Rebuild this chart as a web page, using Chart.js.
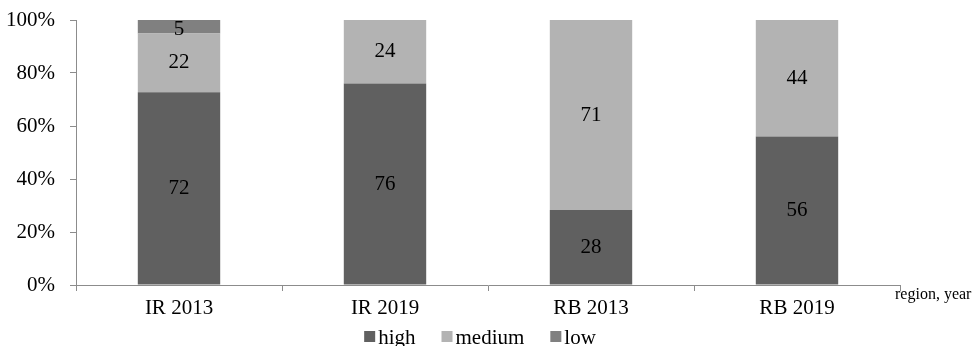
<!DOCTYPE html>
<html>
<head>
<meta charset="utf-8">
<script src="https://cdn.jsdelivr.net/npm/chart.js@4/dist/chart.umd.min.js"></script>
<style>
html,body{margin:0;padding:0;background:#fff;overflow:hidden;}
#c{display:block;}
</style>
</head>
<body>
<canvas id="c" width="975" height="346"></canvas>
<script>
const categories = ['IR 2013', 'IR 2019', 'RB 2013', 'RB 2019'];
const highValues = [72, 76, 28, 56];
const mediumValues = [22, 24, 71, 44];
const lowValues = [5, 0, 0, 0];
const yTicks = [0, 20, 40, 60, 80, 100];
const axisTitle = 'region, year';

const FONT = '"Liberation Serif", "Times New Roman", serif';
const totals = categories.map((_, i) => highValues[i] + mediumValues[i] + lowValues[i]);
const pct = arr => arr.map((v, i) => v / totals[i] * 100);
const rawSeries = [highValues, mediumValues, lowValues];

const labelPlugin = {
  id: 'segLabels',
  afterDatasetsDraw(chart) {
    const ctx = chart.ctx;
    ctx.save();
    ctx.font = '21px ' + FONT;
    ctx.fillStyle = '#000';
    ctx.textAlign = 'center';
    ctx.textBaseline = 'middle';
    chart.data.datasets.forEach((ds, di) => {
      const meta = chart.getDatasetMeta(di);
      meta.data.forEach((el, i) => {
        const raw = rawSeries[di][i];
        if (!raw) return;
        const yc = (el.y + el.base) / 2;
        ctx.fillText(String(raw), el.x, yc + (di === 2 ? 3 : 0));
      });
    });
    // axis title
    ctx.font = '16px ' + FONT;
    ctx.textAlign = 'left';
    ctx.fillText(axisTitle, chart.chartArea.right - 5, chart.chartArea.bottom + 10);
    // legend
    ctx.font = '21px ' + FONT;
    ctx.textBaseline = 'alphabetic';
    const items = chart.data.datasets.map(d => ({ text: d.label, color: d.backgroundColor, w: ctx.measureText(d.label).width }));
    const box = 11, gap = 3, sep = 26;
    let total = 0;
    items.forEach((it, k) => { total += box + gap + it.w + (k < items.length - 1 ? sep : 0); });
    let x = 480 - total / 2;
    const baseY = 344;
    items.forEach(it => {
      ctx.fillStyle = it.color;
      ctx.fillRect(x, baseY - 13, box, box);
      ctx.fillStyle = '#000';
      ctx.fillText(it.text, x + box + gap, baseY);
      x += box + gap + it.w + sep;
    });
    ctx.restore();
  }
};

new Chart(document.getElementById('c'), {
  type: 'bar',
  data: {
    labels: categories,
    datasets: [
      { label: 'high', data: pct(highValues), backgroundColor: '#606060' },
      { label: 'medium', data: pct(mediumValues), backgroundColor: '#b3b3b3' },
      { label: 'low', data: pct(lowValues), backgroundColor: '#808080' }
    ]
  },
  options: {
    responsive: false,
    devicePixelRatio: 1,
    animation: false,
    layout: { padding: { top: 20, right: 75, left: 6, bottom: 21 } },
    datasets: { bar: { categoryPercentage: 1.0, barPercentage: 0.4 } },
    scales: {
      x: {
        stacked: true,
        afterFit: s => { s.height = 40; s.paddingLeft = 0; s.paddingRight = 0; },
        grid: { drawOnChartArea: false, drawTicks: true, tickLength: 6, color: '#8c8c8c', offset: true },
        border: { color: '#8c8c8c', width: 1 },
        ticks: { color: '#000', font: { family: FONT, size: 21 }, padding: 5, maxRotation: 0 }
      },
      y: {
        stacked: true,
        min: 0, max: 100,
        afterFit: s => { s.width = 70; s.paddingTop = 0; s.paddingBottom = 0; },
        afterBuildTicks: s => { s.ticks = yTicks.map(v => ({ value: v })); },
        grid: { drawOnChartArea: false, drawTicks: true, tickLength: 6, color: '#8c8c8c' },
        border: { color: '#8c8c8c', width: 1 },
        ticks: { color: '#000', font: { family: FONT, size: 21 }, padding: 15, callback: v => v + '%' }
      }
    },
    plugins: {
      legend: { display: false },
      tooltip: { enabled: false }
    }
  },
  plugins: [labelPlugin]
});
</script>
</body>
</html>
